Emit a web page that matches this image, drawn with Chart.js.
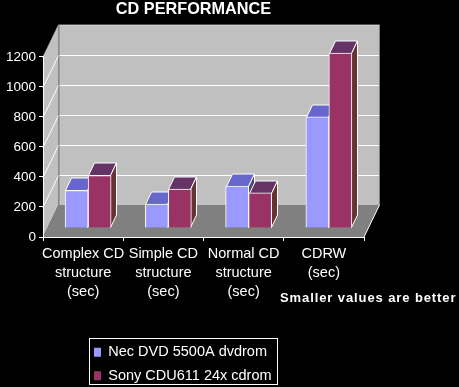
<!DOCTYPE html>
<html lang="en">
<head>
<meta charset="UTF-8">
<title>CD Performance</title>
<script src="https://cdn.jsdelivr.net/npm/chart.js@4"></script>
<style>
    html, body { margin: 0; padding: 0; background: #000; }
    #wrap { width: 459px; height: 387px; }
</style>
</head>
<body>
<div id="wrap"><canvas id="myChart" width="459" height="387"></canvas></div>
<script>
const categories = [
    ['Complex CD', 'structure', '(sec)'],
    ['Simple CD', 'structure', '(sec)'],
    ['Normal CD', 'structure', '(sec)'],
    ['CDRW', '(sec)']
];
const necValues = [250, 160, 280, 740];
const sonyValues = [350, 260, 235, 1165];
const necLabel = 'Nec DVD 5500A dvdrom';
const sonyLabel = 'Sony CDU611 24x cdrom';
const yMax = 1200;
const yStep = 200;
const titleText = 'CD PERFORMANCE';
const noteText = 'Smaller values are better';

// depth of the fake 3d box, and where the bars stand inside it
const depth = { x: 15.5, y: -32 };
const barShift = { x: 5, y: -9 };
const barDepth = { x: 6, y: -12.5 };

const faces = [
    { top: '#6666cc', side: '#4d4d73' },
    { top: '#663366', side: '#663333' }
];

function poly(ctx, pts, fill, stroke) {
    ctx.beginPath();
    pts.forEach((p, i) => i ? ctx.lineTo(p[0], p[1]) : ctx.moveTo(p[0], p[1]));
    ctx.closePath();
    if (fill) { ctx.fillStyle = fill; ctx.fill(); }
    if (stroke) { ctx.strokeStyle = stroke; ctx.lineWidth = 1; ctx.stroke(); }
}

const box3d = {
    id: 'box3d',
    afterLayout(chart) {
        // title and legend do not sit where the layout puts them
        const t = chart.titleBlock;
        t.left = 0; t.right = 387; t.top = 1; t.bottom = 19;
        const l = chart.legend;
        const w = l.width, h = l.height;
        l.left = 85; l.top = 336; l.right = l.left + w; l.bottom = l.top + h;
    },
    beforeDraw(chart) {
        const { ctx, scales: { x, y } } = chart;
        const l = x.left, r = x.right;
        const b = y.getPixelForValue(0), t = y.getPixelForValue(yMax);
        const dx = depth.x, dy = depth.y;
        ctx.save();
        // floor
        poly(ctx, [[l, b], [r, b], [r + dx, b + dy], [l + dx, b + dy]], '#808080');
        // back and left wall
        poly(ctx, [[l + dx, t + dy], [r + dx, t + dy], [r + dx, b + dy], [l + dx, b + dy]], '#c0c0c0');
        poly(ctx, [[l, t], [l + dx, t + dy], [l + dx, b + dy], [l, b]], '#c0c0c0');
        ctx.lineWidth = 1;
        // gridlines follow the y axis round the corner
        y.ticks.forEach(tick => {
            const py = Math.round(y.getPixelForValue(tick.value)) + 0.5;
            if (tick.value === 0) return;
            ctx.strokeStyle = '#fff';
            ctx.beginPath();
            ctx.moveTo(l, py);
            ctx.lineTo(l + dx, py + dy);
            ctx.lineTo(r + dx, py + dy);
            ctx.stroke();
        });
        // box edges
        ctx.strokeStyle = '#808080';
        ctx.beginPath();
        ctx.moveTo(l, t);
        ctx.lineTo(l + dx, t + dy);
        ctx.lineTo(r + dx, t + dy);
        ctx.lineTo(r + dx, b + dy);
        ctx.moveTo(l + dx + 0.5, t + dy);
        ctx.lineTo(l + dx + 0.5, b + dy);
        ctx.stroke();
        ctx.strokeStyle = '#fff';
        ctx.beginPath();
        ctx.moveTo(r, b);
        ctx.lineTo(r + dx, b + dy);
        ctx.stroke();
        ctx.restore();
    },
    beforeDatasetsDraw(chart) {
        // top and side faces first, the bars' front faces cover them afterwards
        const ctx = chart.ctx;
        const dx = barDepth.x, dy = barDepth.y;
        ctx.save();
        ctx.translate(barShift.x, barShift.y);
        chart.data.datasets.forEach((d, i) => {
            chart.getDatasetMeta(i).data.forEach(bar => {
                const p = bar.getProps(['x', 'y', 'base', 'width'], true);
                const x0 = Math.round(p.x - p.width / 2) + 0.5, x1 = Math.round(p.x + p.width / 2) - 0.5;
                const yt = Math.round(p.y) + 0.5, yb = Math.round(p.base) - 0.5;
                poly(ctx, [[x0, yt], [x0 + dx, yt + dy], [x1 + dx, yt + dy], [x1, yt]], faces[i].top, '#fff');
                poly(ctx, [[x1, yt], [x1 + dx, yt + dy], [x1 + dx, yb + dy], [x1, yb]], faces[i].side, '#fff');
            });
        });
        ctx.restore();
    },
    beforeDatasetDraw(chart) {
        chart.ctx.save();
        chart.ctx.translate(barShift.x, barShift.y);
    },
    afterDatasetDraw(chart) {
        chart.ctx.restore();
    },
    afterDraw(chart) {
        const ctx = chart.ctx;
        ctx.save();
        // legend frame
        ctx.strokeStyle = '#fff';
        ctx.lineWidth = 1;
        ctx.strokeRect(89.5, 338.5, 188, 46);
        // note under the last category
        ctx.fillStyle = '#fff';
        ctx.font = 'bold 13px "Liberation Sans"';
        ctx.letterSpacing = '0.9px';
        ctx.textAlign = 'left';
        ctx.textBaseline = 'alphabetic';
        ctx.fillText(noteText, 280, 302);
        ctx.restore();
    }
};

new Chart(document.getElementById('myChart'), {
    type: 'bar',
    data: {
        labels: categories,
        datasets: [
            { label: necLabel, data: necValues, backgroundColor: '#9999ff', borderColor: '#fff', borderWidth: 1, clip: false },
            { label: sonyLabel, data: sonyValues, backgroundColor: '#993366', borderColor: '#fff', borderWidth: 1, clip: false }
        ]
    },
    options: {
        responsive: false,
        animation: false,
        layout: { padding: { left: 0, right: 95, top: 39, bottom: 0 } },
        datasets: { bar: { barThickness: 23, barPercentage: 1, categoryPercentage: 1 } },
        scales: {
            x: {
                grid: { drawOnChartArea: false, color: '#fff', tickLength: 4 },
                border: { color: '#fff' },
                ticks: { color: '#fff', maxRotation: 0, autoSkip: false, padding: 4, font: { family: 'Liberation Sans', size: 14.5, lineHeight: 1.31 } },
                afterFit(s) { s.height = 150; }
            },
            y: {
                min: 0,
                max: yMax,
                grid: { drawOnChartArea: false, color: '#fff', tickLength: 4 },
                border: { color: '#fff' },
                ticks: { color: '#fff', stepSize: yStep, padding: 3, font: { family: 'Liberation Sans', size: 13.5 }, callback: v => String(v) },
                afterFit(s) { s.width = 43; }
            }
        },
        plugins: {
            title: {
                display: true,
                text: titleText,
                color: '#fff',
                padding: { top: 0, bottom: 0 },
                font: { family: 'Liberation Sans', size: 16.25, weight: 'bold', lineHeight: 1.1 }
            },
            legend: {
                position: 'chartArea',
                align: 'start',
                labels: {
                    color: '#fff',
                    boxWidth: 7,
                    boxHeight: 9,
                    padding: 9,
                    font: { family: 'Liberation Sans', size: 14.5 },
                    generateLabels(chart) {
                        return chart.data.datasets.map((d, i) => ({
                            text: d.label, fillStyle: d.backgroundColor, strokeStyle: d.backgroundColor,
                            lineWidth: 0, fontColor: '#fff', datasetIndex: i, hidden: false
                        }));
                    }
                }
            },
            tooltip: { enabled: false }
        }
    },
    plugins: [box3d]
});
</script>
</body>
</html>
